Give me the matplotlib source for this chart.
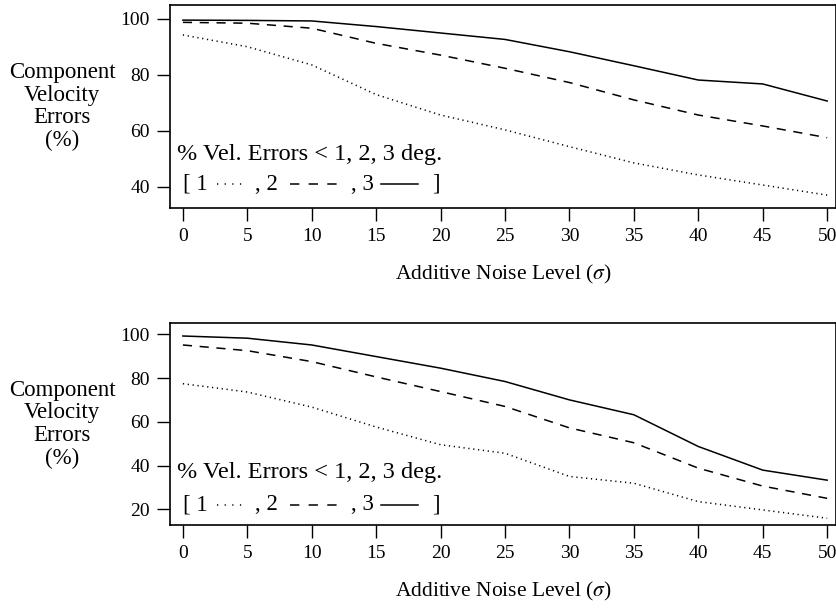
import matplotlib
matplotlib.use("Agg")
import matplotlib.pyplot as plt

noise = [0, 5, 10, 15, 20, 25, 30, 35, 40, 45, 50]

# top panel
top_1deg = [94.3, 90.1, 83.6, 73.0, 65.7, 60.4, 54.4, 48.6, 44.3, 40.7, 37.1]
top_2deg = [98.8, 98.5, 96.7, 91.3, 87.1, 82.4, 77.3, 71.1, 65.7, 61.8, 57.6]
top_3deg = [99.6, 99.5, 99.3, 97.3, 95.0, 92.7, 88.3, 83.3, 78.2, 76.8, 70.7]

# bottom panel
bot_1deg = [77.4, 73.6, 66.7, 57.6, 49.5, 45.6, 35.0, 31.9, 23.5, 19.7, 15.9]
bot_2deg = [95.1, 92.5, 87.5, 80.5, 73.8, 67.0, 57.2, 50.4, 38.8, 30.6, 25.0]
bot_3deg = [99.2, 98.2, 95.1, 89.8, 84.5, 78.4, 70.0, 63.2, 48.7, 37.9, 33.3]

xticks = [0, 5, 10, 15, 20, 25, 30, 35, 40, 45, 50]
top_yticks = [40, 60, 80, 100]
bot_yticks = [20, 40, 60, 80, 100]

plt.rcParams['font.family'] = ['Liberation Serif', 'DejaVu Serif']
plt.rcParams['mathtext.fontset'] = 'stix'

DOT = (0, (0.8, 2.4))
DASH = (0, (6, 5))

fig = plt.figure(figsize=(8.37, 6.09), dpi=100)
ax1 = fig.add_axes([0.2031, 0.6585, 0.7959, 0.3333])
ax2 = fig.add_axes([0.2031, 0.1379, 0.7959, 0.3312])


def draw(ax, d1, d2, d3, yticks, ylim, leg_y):
    ax.plot(noise, d3, color='black', lw=1.1, ls='-')
    ax.plot(noise, d2, color='black', lw=1.1, ls=DASH)
    ax.plot(noise, d1, color='black', lw=1.1, ls=DOT)
    ax.set_xlim(-1, 50.7)
    ax.set_ylim(*ylim)
    ax.set_xticks(xticks)
    ax.set_yticks(yticks)
    ax.tick_params(direction='out', length=9.5, width=1, labelsize=14, pad=5)
    for s in ax.spines.values():
        s.set_linewidth(1.2)
    ax.set_xlabel('Additive Noise Level ($\\sigma$)', fontsize=15.5, labelpad=13)
    ax.set_ylabel('Component\nVelocity\nErrors\n(%)', fontsize=16.5, rotation=0,
                  ha='center', va='center', linespacing=1.1)
    ax.yaxis.set_label_coords(-0.162, 0.5)

    # hand-made legend
    fs = 16.5
    y0, y1 = leg_y
    ax.text(0.011, y0, '% Vel. Errors < 1, 2, 3 deg.', transform=ax.transAxes,
            fontsize=17.5, va='center', ha='left')
    ax.text(0.0195, y1, '[ 1', transform=ax.transAxes, fontsize=fs,
            va='center', ha='left')
    ax.plot([0.0705, 0.1154], [y1, y1], transform=ax.transAxes,
            color='black', lw=1.1, ls=(0, (0.8, 4.2)))
    ax.text(0.1274, y1, ', 2', transform=ax.transAxes, fontsize=fs,
            va='center', ha='left')
    ax.plot([0.1799, 0.2504], [y1, y1], transform=ax.transAxes,
            color='black', lw=1.1, ls=(0, (6.1, 6.1)))
    ax.text(0.2715, y1, ', 3', transform=ax.transAxes, fontsize=fs,
            va='center', ha='left')
    ax.plot([0.3163, 0.3718], [y1, y1], transform=ax.transAxes,
            color='black', lw=1.1, ls='-')
    ax.text(0.3943, y1, ']', transform=ax.transAxes, fontsize=fs,
            va='center', ha='left')


draw(ax1, top_1deg, top_2deg, top_3deg, top_yticks, (32.5, 105), (0.261, 0.118))
draw(ax2, bot_1deg, bot_2deg, bot_3deg, bot_yticks, (12.8, 105), (0.258, 0.100))

fig.savefig('out.png', dpi=100)
